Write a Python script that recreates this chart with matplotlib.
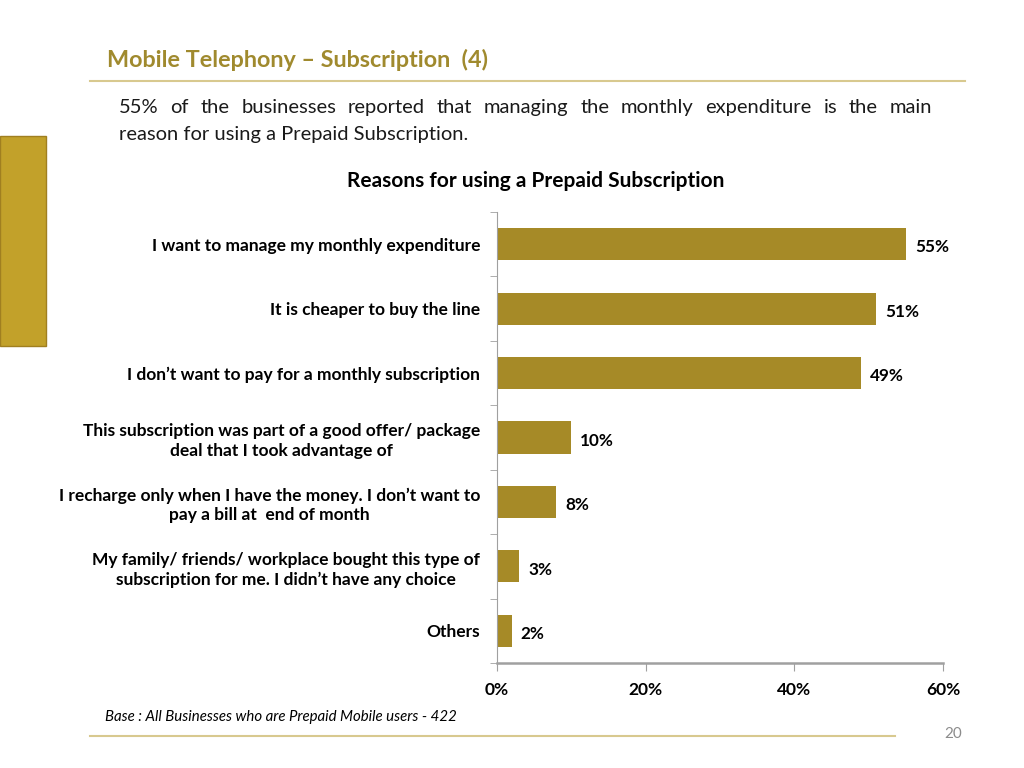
import matplotlib.pyplot as plt
import matplotlib.patches as mpatches
import matplotlib.lines as mlines
import numpy as np

plt.rcParams['font.family'] = ['Lato', 'DejaVu Sans']

categories = [
    "I want to manage my monthly expenditure",
    "It is cheaper to buy the line",
    "I don\u2019t want to pay for a monthly subscription",
    "This subscription was part of a good offer/ package\ndeal that I took advantage of",
    "I recharge only when I have the money. I don\u2019t want to\npay a bill at  end of month",
    "My family/ friends/ workplace bought this type of\nsubscription for me. I didn\u2019t have any choice",
    "Others",
]
values = [55, 51, 49, 10, 8, 3, 2]
xticks = [0, 20, 40, 60]

bar_color = '#A68A27'
gold = '#A08A2E'
line_color = '#D8C98F'

fig = plt.figure(figsize=(10.24, 7.68), dpi=100)

# slide decorations
fig.patches.append(mpatches.Rectangle((0, 1 - 346/768), 46/1024, 210/768,
                                      transform=fig.transFigure, facecolor='#C2A12A',
                                      edgecolor='#A07F20', linewidth=1))
fig.lines.append(mlines.Line2D([90/1024, 965/1024], [1 - 81/768] * 2,
                               transform=fig.transFigure, color=line_color, lw=1.5))
fig.lines.append(mlines.Line2D([90/1024, 895/1024], [1 - 736/768] * 2,
                               transform=fig.transFigure, color=line_color, lw=1.5))

fig.text(107/1024, 1 - 60/768, "Mobile Telephony \u2013 Subscription  (4)",
         fontsize=16.8, fontweight='bold', color=gold, va='center', ha='left')

# justified first line of the paragraph
line1 = "55% of the businesses reported that managing the monthly expenditure is the main"
words = line1.split()
x0, x1 = 119/1024, 932/1024
fig.canvas.draw()
renderer = fig.canvas.get_renderer()
texts = [fig.text(0, 1 - 113/768, w, fontsize=14.5, va='baseline', color='#1a1a1a') for w in words]
widths = [t.get_window_extent(renderer).width / fig.bbox.width for t in texts]
gap = (x1 - x0 - sum(widths)) / (len(words) - 1)
xpos = x0
for t, w in zip(texts, widths):
    t.set_x(xpos)
    xpos += w + gap
fig.text(x0, 1 - 140/768, "reason for using a Prepaid Subscription.",
         fontsize=14.5, va='baseline', color='#1a1a1a')

fig.text(536/1024, 1 - 181/768, "Reasons for using a Prepaid Subscription",
         fontsize=15, fontweight='bold', ha='center', va='center')

ax = fig.add_axes([497/1024, 1 - 663/768, 446/1024, 451/768])
y = np.arange(len(categories))
ax.barh(y, values, height=0.5, color=bar_color)
ax.set_ylim(len(categories) - 0.5, -0.5)
ax.set_xlim(0, 60)

for yi, v in zip(y, values):
    ax.text(v + 1.2, yi + 0.05, f"{v}%", fontsize=12.3, fontweight='bold',
            va='center', ha='left')

ax.set_yticks(y)
ax.set_yticklabels(categories, fontsize=12.5, fontweight='bold',
                   multialignment='center', linespacing=1.3)
ax.set_yticks(np.arange(len(categories) + 1) - 0.5, minor=True)
ax.tick_params(axis='y', which='major', length=0, pad=12)
ax.tick_params(axis='y', which='minor', length=5, color='#A0A0A0', direction='out')

ax.set_xticks(xticks)
ax.set_xticklabels([f"{t}%" for t in xticks], fontsize=12.5, fontweight='bold')
ax.tick_params(axis='x', length=6, color='#A0A0A0', pad=8)

for s in ['top', 'right']:
    ax.spines[s].set_visible(False)
for s in ['left', 'bottom']:
    ax.spines[s].set_color('#A0A0A0')
ax.spines['bottom'].set_linewidth(1.8)

fig.text(105/1024, 1 - 717/768, "Base : All Businesses who are Prepaid Mobile users - 422",
         fontsize=10.8, fontstyle='italic', va='center')
fig.text(953/1024, 1 - 734/768, "20", fontsize=11, color='#8c8c8c', ha='center', va='center')

fig.savefig('out.png', dpi=100)
